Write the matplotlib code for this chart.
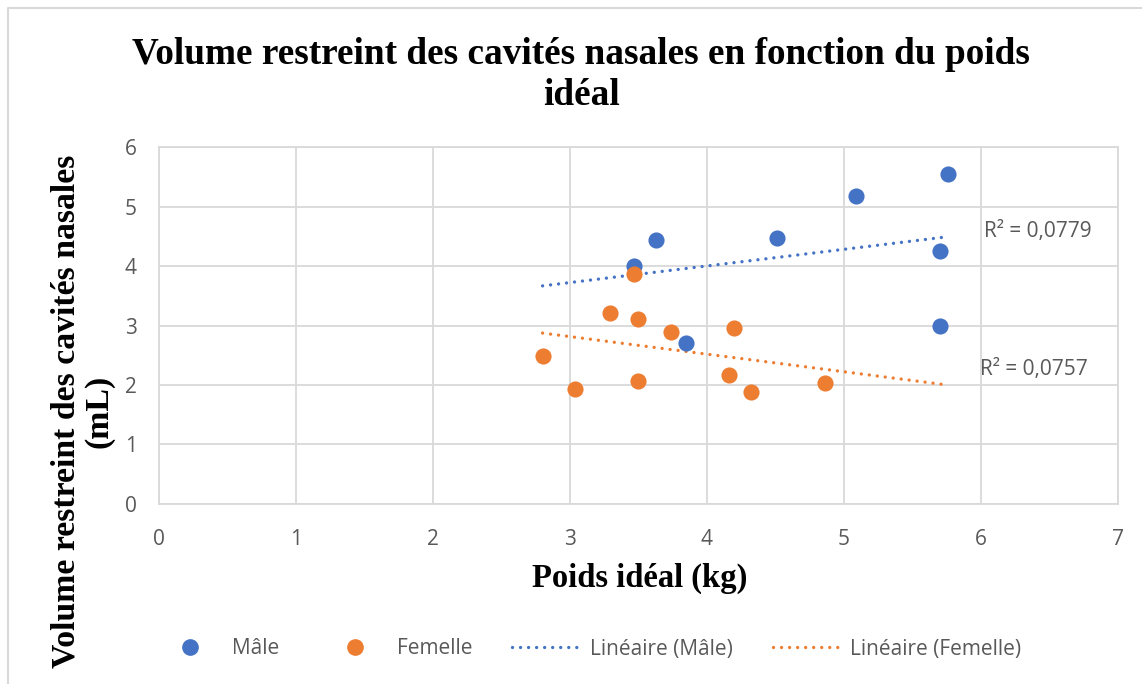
import numpy as np
import matplotlib
matplotlib.use("Agg")
import matplotlib.pyplot as plt
from matplotlib.lines import Line2D

# Mâle / Femelle: poids idéal (kg) vs volume restreint (mL)
male_x = [5.76, 5.085, 3.63, 4.51, 3.47, 5.70, 5.70, 3.85]
male_y = [5.56, 5.18, 4.44, 4.47, 4.01, 4.26, 3.00, 2.71]
female_x = [3.47, 3.29, 3.50, 3.74, 4.20, 2.80, 3.04, 3.50, 4.16, 4.32, 4.86]
female_y = [3.87, 3.22, 3.11, 2.90, 2.96, 2.48, 1.94, 2.07, 2.16, 1.88, 2.04]
r2_labels = ["R² = 0,0779", "R² = 0,0757"]
legend_labels = ["Mâle", "Femelle", "Linéaire (Mâle)", "Linéaire (Femelle)"]

BLUE = "#4472C4"
ORANGE = "#ED7D31"
GRID = "#d9d9d9"
TXT = "#595959"
SANS = ["Open Sans", "DejaVu Sans"]
SERIF = ["Liberation Serif", "DejaVu Serif"]
DOT = (0, (0.01, 2.4))


def trend(xs, ys, x_lo, x_hi):
    slope, icpt = np.polyfit(xs, ys, 1)
    tx = np.array([x_lo, x_hi])
    return tx, slope * tx + icpt


def draw_chart():
    fig = plt.figure(figsize=(11.42, 6.84), dpi=100)
    ax = fig.add_axes([0.1392, 0.2635, 0.8398, 0.521])

    ax.set_xlim(0, 7)
    ax.set_ylim(0, 6)
    ax.set_xticks(range(0, 8))
    ax.set_yticks(range(0, 7))
    ax.grid(True, color=GRID, linewidth=1.3)
    ax.set_axisbelow(True)
    for sp in ax.spines.values():
        sp.set_color(GRID)
        sp.set_linewidth(1.3)
    ax.tick_params(length=0, labelsize=15, labelcolor=TXT)
    ax.tick_params(axis="x", pad=18)
    ax.tick_params(axis="y", pad=16)
    for lab in ax.get_xticklabels() + ax.get_yticklabels():
        lab.set_family(SANS)

    x_lo = min(male_x + female_x)
    x_hi = max(male_x + female_x) - 0.02
    tx, ty = trend(male_x, male_y, x_lo, x_hi)
    ax.plot(tx, ty, color=BLUE, lw=2.4, linestyle=DOT, dash_capstyle="round")
    tx, ty = trend(female_x, female_y, x_lo, x_hi)
    ax.plot(tx, ty, color=ORANGE, lw=2.4, linestyle=DOT, dash_capstyle="round")

    ax.scatter(male_x, male_y, s=135, color=BLUE, zorder=3, linewidths=0)
    ax.scatter(female_x, female_y, s=135, color=ORANGE, zorder=3, linewidths=0)

    ax.text(6.02, 4.59, r2_labels[0], fontsize=15, color=TXT, family=SANS,
            va="center", ha="left")
    ax.text(5.99, 2.26, r2_labels[1], fontsize=15, color=TXT, family=SANS,
            va="center", ha="left")

    fig.text(0.509, 0.8905, "Volume restreint des cavités nasales en fonction du poids\nidéal",
             ha="center", va="center", fontsize=26.8, fontweight="bold",
             family=SERIF, linespacing=1.22)
    fig.text(0.56, 0.155, "Poids idéal (kg)", ha="center", va="center",
             fontsize=23.5, fontweight="bold", family=SERIF)
    fig.text(0.0725, 0.398, "Volume restreint des cavités nasales\n(mL)", ha="center",
             va="center", rotation=90, fontsize=24.3, fontweight="bold",
             family=SERIF, linespacing=1.08)

    handles = [
        Line2D([], [], marker="o", ls="", color=BLUE, markersize=11),
        Line2D([], [], marker="o", ls="", color=ORANGE, markersize=11),
        Line2D([], [], color=BLUE, lw=2.4, ls=DOT, dash_capstyle="round"),
        Line2D([], [], color=ORANGE, lw=2.4, ls=DOT, dash_capstyle="round"),
    ]
    leg = fig.legend(handles, legend_labels, loc="center", ncol=4,
                     bbox_to_anchor=(588 / 1142, 1 - 649 / 684),
                     frameon=False, borderpad=0, borderaxespad=0,
                     handlelength=3.37, handletextpad=0.34, columnspacing=1.92,
                     prop={"family": SANS, "size": 15})
    for t in leg.get_texts():
        t.set_color(TXT)

    # chart frame (top and left edges)
    fig.add_artist(Line2D([8 / 1142, 8 / 1142, 1.0], [0.0, 1 - 8 / 684, 1 - 8 / 684],
                          transform=fig.transFigure, color=GRID, lw=1.5))

    fig.savefig("out.png", dpi=100)


if __name__ == "__main__":
    draw_chart()
